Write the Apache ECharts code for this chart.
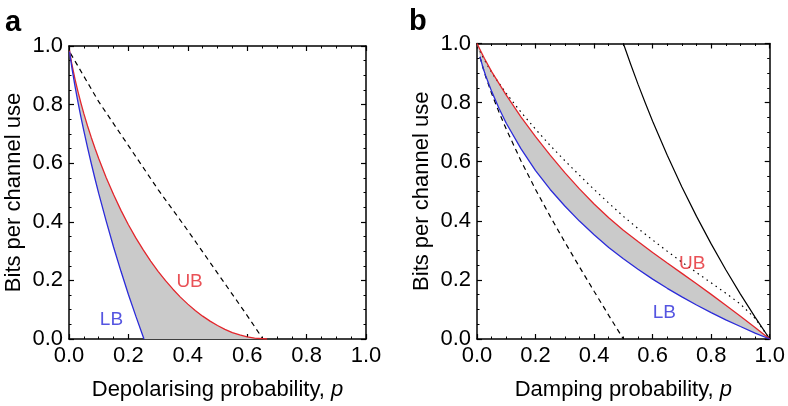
<!DOCTYPE html>
<html><head><meta charset="utf-8">
<script src="https://cdn.jsdelivr.net/npm/echarts@6/dist/echarts.min.js"></script>
<style>html,body{margin:0;padding:0;background:#fff}#c{width:788px;height:406px}</style>
</head><body><div id="c"></div>
<script>
// ---------- Panel a : depolarising channel ----------
var aLB_p = [0.002,0.005,0.01,0.02,0.03,0.04,0.05,0.0625,0.075,0.0875,0.1,0.125,0.15,0.175,0.2,0.225,0.25,0.2524];
var aLB_v = [0.981,0.958,0.924,0.864,0.809,0.758,0.710,0.653,0.599,0.547,0.497,0.403,0.314,0.231,0.152,0.078,0.007,0];
var aUB_p = [0.002,0.005,0.01,0.02,0.03,0.04,0.05,0.0625,0.075,0.0875,0.1,0.125,0.15,0.175,0.2,0.225,0.25,0.275,0.3,0.325,0.35,0.375,0.4,0.425,0.45,0.475,0.5,0.525,0.55,0.575,0.6,0.625,0.667];
var aUB_v = [0.984,0.964,0.936,0.888,0.845,0.806,0.769,0.727,0.688,0.651,0.616,0.551,0.493,0.439,0.390,0.345,0.304,0.266,0.231,0.199,0.170,0.143,0.119,0.097,0.078,0.061,0.046,0.033,0.022,0.014,0.007,0.003,0];
var aDash_p = [0.005,0.1,0.2,0.3,0.4,0.5,0.6,0.653];
var aDash_v = [0.975,0.81,0.66,0.51,0.37,0.225,0.08,0];
// ---------- Panel b : amplitude damping ----------
var bLB_p = [0.01,0.02,0.03,0.05,0.075,0.1,0.15,0.2,0.25,0.3,0.35,0.4,0.45,0.5,0.55,0.6,0.65,0.7,0.75,0.8,0.85,0.9,0.95,1.0];
var bLB_v = [0.955,0.920,0.890,0.838,0.781,0.730,0.644,0.570,0.506,0.450,0.399,0.3525,0.310,0.2717,0.236,0.2025,0.1715,0.1425,0.115,0.0895,0.065,0.0422,0.020,0];
var bUB_p = [0,0.025,0.05,0.1,0.15,0.2,0.25,0.3,0.35,0.4,0.45,0.5,0.55,0.6,0.65,0.7,0.75,0.8,0.85,0.9,0.95,1.0];
var bUB_v = [1,0.95,0.905,0.825,0.752,0.685,0.622,0.563,0.508,0.457,0.41,0.368,0.33,0.293,0.257,0.222,0.187,0.151,0.114,0.077,0.039,0];
var bDash_p = [0.01,0.02,0.03,0.05,0.075,0.1,0.15,0.2,0.25,0.3,0.35,0.4,0.45,0.5];
var bDash_v = [0.955,0.919,0.887,0.831,0.768,0.710,0.6035,0.506,0.415,0.328,0.244,0.1615,0.080,0];
var bDot_p = [0.01,0.02,0.04,0.06,0.1,0.15,0.2,0.25,0.3,0.35,0.4,0.45,0.5,0.55,0.6,0.65,0.7,0.75,0.8,0.85,0.9,0.95,1.0];
var bDot_v = [0.974,0.955,0.919,0.887,0.831,0.768,0.710,0.655,0.6035,0.554,0.506,0.460,0.415,0.374,0.335,0.297,0.26,0.225,0.19,0.155,0.118,0.07,0];
var bSol_p = [0.5,0.525,0.55,0.575,0.6,0.65,0.7,0.75,0.8,0.85,0.9,0.95,1.0];
var bSol_v = [1,0.9296,0.8625,0.7985,0.737,0.6215,0.5146,0.415,0.3219,0.2345,0.152,0.074,0];
// annotation anchors (data units)
var aLabUB = [0.406,0.194], aLabLB = [0.143,0.066];
var bLabUB = [0.735,0.256], bLabLB = [0.64,0.09];

function pairs(xs, ys){ return xs.map(function(x,i){return [x, ys[i]];}); }

var FONT = '"Liberation Sans", Arial, Helvetica, sans-serif';
var RED = '#e3262c', BLUE = '#2b2bd9', GREY = '#cacaca';

function mkX(gi, pos, name, show){
  return {type:'value', gridIndex:gi, position:pos, min:0, max:1, interval:0.2,
    axisLine:{show:true, onZero:false, lineStyle:{color:'#000', width:1.5}},
    axisTick:{show:true, inside:true, length:5, lineStyle:{color:'#000', width:1.2}},
    minorTick:{show:true, splitNumber:4, length:2.5, lineStyle:{color:'#000', width:1}},
    splitLine:{show:false}, minorSplitLine:{show:false},
    axisLabel:{show:show, margin:6, fontSize:22, color:'#000', fontFamily:FONT,
      formatter:function(v){return v.toFixed(1);}},
    name: show ? name : '', nameLocation:'middle', nameGap:40,
    nameTextStyle:{fontSize:22, color:'#000', fontFamily:FONT,
      rich:{i:{fontStyle:'italic', fontSize:22, color:'#000', fontFamily:FONT}}}
  };
}
function mkY(gi, pos, show){
  return {type:'value', gridIndex:gi, position:pos, min:0, max:1, interval:0.2,
    axisLine:{show:true, onZero:false, lineStyle:{color:'#000', width:1.5}},
    axisTick:{show:true, inside:true, length:5, lineStyle:{color:'#000', width:1.2}},
    minorTick:{show:true, splitNumber:4, length:2.5, lineStyle:{color:'#000', width:1}},
    splitLine:{show:false}, minorSplitLine:{show:false},
    axisLabel:{show:show, margin:6, fontSize:22, color:'#000', fontFamily:FONT,
      formatter:function(v){return v.toFixed(1);}},
    name: show ? 'Bits per channel use' : '', nameLocation:'middle', nameGap:44, nameRotate:90,
    nameTextStyle:{fontSize:22, color:'#000', fontFamily:FONT}
  };
}
function line(xi, yi, xs, ys, color, type, w){
  return {type:'line', xAxisIndex:xi, yAxisIndex:yi, data:pairs(xs,ys), showSymbol:false,
    smooth:false, z:3, silent:true,
    lineStyle:{color:color, width:w||1.3, type:type||'solid'}};
}
function band(xi, yi, upX, upY, loX, loY){
  var poly = pairs(upX, upY).concat(pairs(loX, loY).reverse());
  return {type:'custom', xAxisIndex:xi, yAxisIndex:yi, data:[[0,0]], z:1, silent:true,
    renderItem:function(params, api){
      return {type:'polygon', shape:{points:poly.map(function(p){return api.coord(p);})},
        style:{fill:GREY, stroke:null}};
    }};
}
function lab(xi, yi, pos, text, color){
  return {type:'scatter', xAxisIndex:xi, yAxisIndex:yi, data:[pos], symbolSize:1, z:4, silent:true,
    itemStyle:{color:'rgba(0,0,0,0)'},
    label:{show:true, position:'inside', formatter:text, fontSize:19, color:color, fontFamily:FONT}};
}

var chart = echarts.init(document.getElementById('c'), null, {renderer:'canvas'});
chart.setOption({
  animation:false,
  backgroundColor:'#fff',
  title:[
    {text:'a', left:0, top:3, textStyle:{fontSize:29, fontWeight:'bold', color:'#000', fontFamily:FONT}},
    {text:'b', left:404, top:2, textStyle:{fontSize:29, fontWeight:'bold', color:'#000', fontFamily:FONT}}
  ],
  grid:[
    {left:69, top:46, width:297, height:296},
    {left:477, top:43.5, width:299, height:298}
  ],
  xAxis:[
    mkX(0,'bottom','Depolarising probability, {i|p}', true),
    mkX(0,'top','', false),
    mkX(1,'bottom','Damping probability, {i|p}', true),
    mkX(1,'top','', false)
  ],
  yAxis:[
    mkY(0,'left',true), mkY(0,'right',false),
    mkY(1,'left',true), mkY(1,'right',false)
  ],
  series:[
    band(0,0,aUB_p,aUB_v,aLB_p,aLB_v),
    line(0,0,aDash_p,aDash_v,'#000',[5,4],1.2),
    line(0,0,aUB_p,aUB_v,RED),
    line(0,0,aLB_p,aLB_v,BLUE),
    lab(0,0,aLabUB,'UB',RED),
    lab(0,0,aLabLB,'LB',BLUE),
    band(2,2,bUB_p,bUB_v,bLB_p,bLB_v),
    line(2,2,bDash_p,bDash_v,'#000',[5,4],1.2),
    line(2,2,bDot_p,bDot_v,'#000',[1.5,4],1.2),
    line(2,2,bSol_p,bSol_v,'#000','solid',1.2),
    line(2,2,bUB_p,bUB_v,RED),
    line(2,2,bLB_p,bLB_v,BLUE),
    lab(2,2,bLabUB,'UB',RED),
    lab(2,2,bLabLB,'LB',BLUE)
  ]
});
</script></body></html>
